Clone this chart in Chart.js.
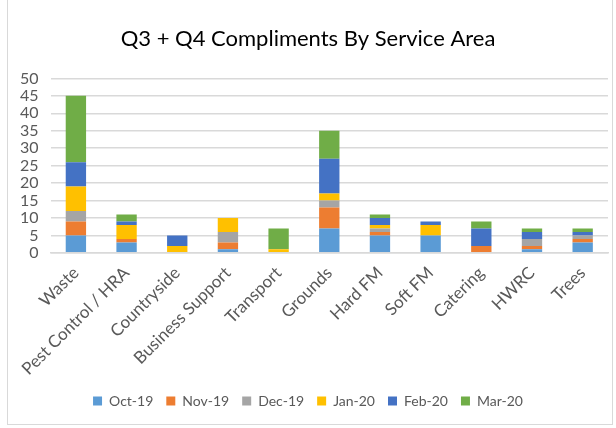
<!DOCTYPE html>
<html>
<head>
<meta charset="utf-8">
<script src="https://cdn.jsdelivr.net/npm/chart.js@4"></script>
<style>
    html, body { margin: 0; padding: 0; background: #fff; }
    #wrap { position: relative; width: 616px; height: 428px; }
    #frame { position: absolute; left: 7px; top: -1px; width: 606px; height: 426px; border: 1px solid #d9d9d9; box-sizing: border-box; pointer-events: none; }
</style>
</head>
<body>
<div id="wrap">
    <canvas id="chart" width="616" height="428"></canvas>
    <div id="frame"></div>
</div>
<script>
// Categories and monthly compliment counts
const areas = ['Waste', 'Pest Control / HRA', 'Countryside', 'Business Support', 'Transport',
    'Grounds', 'Hard FM', 'Soft FM', 'Catering', 'HWRC', 'Trees'];
const months = ['Oct-19', 'Nov-19', 'Dec-19', 'Jan-20', 'Feb-20', 'Mar-20'];

const oct19 = [5, 3, 0, 1, 0, 7, 5, 5, 0, 1, 3];
const nov19 = [4, 1, 0, 2, 0, 6, 1, 0, 2, 1, 1];
const dec19 = [3, 0, 0, 3, 0, 2, 1, 0, 0, 2, 1];
const jan20 = [7, 4, 2, 4, 1, 2, 1, 3, 0, 0, 0];
const feb20 = [7, 1, 3, 0, 0, 10, 2, 1, 5, 2, 1];
const mar20 = [19, 2, 0, 0, 6, 8, 1, 0, 2, 1, 1];

const seriesValues = [oct19, nov19, dec19, jan20, feb20, mar20];
const colours = ['#5B9BD5', '#ED7D31', '#A5A5A5', '#FFC000', '#4472C4', '#70AD47'];

const fontFamily = 'Lato, "Liberation Sans", sans-serif';

const ctx = document.getElementById('chart').getContext('2d');

const datasets = months.map((m, i) => ({
    label: m,
    data: seriesValues[i],
    backgroundColor: colours[i],
    borderWidth: 0,
    barPercentage: 0.55,
    categoryPercentage: 0.73
}));

new Chart(ctx, {
    type: 'bar',
    data: { labels: areas, datasets: datasets },
    options: {
        responsive: false,
        animation: false,
        layout: { padding: { left: 8, right: 8, top: 26, bottom: 10 } },
        plugins: {
            title: {
                display: true,
                text: 'Q3 + Q4 Compliments By Service Area',
                color: '#000',
                font: { family: fontFamily, size: 22, weight: 'normal' },
                padding: { top: 0, bottom: 26 }
            },
            legend: {
                position: 'bottom',
                labels: {
                    color: '#595959',
                    font: { family: fontFamily, size: 14 },
                    boxWidth: 9,
                    boxHeight: 9,
                    padding: 13
                }
            },
            tooltip: { enabled: false }
        },
        scales: {
            x: {
                stacked: true,
                grid: { display: false },
                border: { color: '#d9d9d9', width: 1.5 },
                ticks: {
                    color: '#595959',
                    font: { family: fontFamily, size: 17 },
                    maxRotation: 45,
                    minRotation: 45,
                    padding: 2
                }
            },
            y: {
                stacked: true,
                min: 0,
                max: 50,
                grid: { color: '#d9d9d9', lineWidth: 1.5, drawTicks: false },
                border: { display: false },
                ticks: {
                    stepSize: 5,
                    autoSkip: false,
                    color: '#595959',
                    font: { family: fontFamily, size: 16 },
                    padding: 12
                }
            }
        }
    }
});
</script>
</body>
</html>
